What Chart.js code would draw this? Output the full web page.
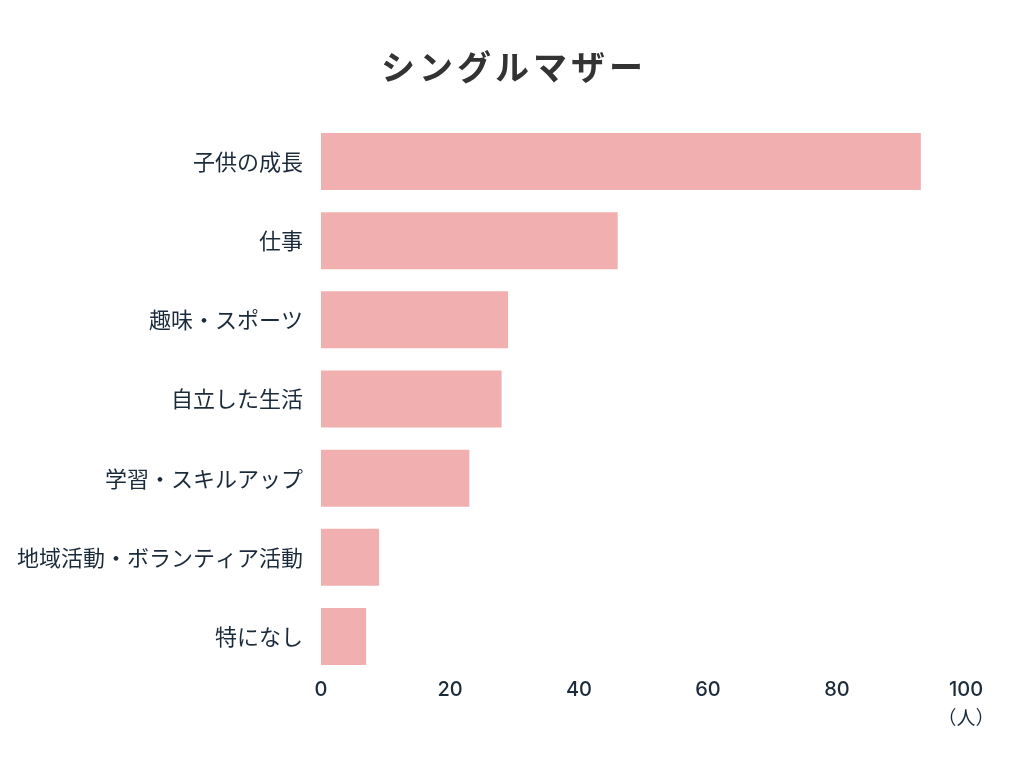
<!DOCTYPE html>
<html lang="ja">
<head>
<meta charset="utf-8">
<title>シングルマザー</title>
<script src="https://cdn.jsdelivr.net/npm/chart.js@4/dist/chart.umd.min.js"></script>
<style>
  html, body { margin: 0; padding: 0; background: #fff; }
  #wrap { width: 1024px; height: 768px; }
</style>
</head>
<body>
<div id="wrap"><canvas id="chart" width="1024" height="768"></canvas></div>
<script>
// Data
const titleText = 'シングルマザー';
const categories = ['子供の成長', '仕事', '趣味・スポーツ', '自立した生活', '学習・スキルアップ', '地域活動・ボランティア活動', '特になし'];
const counts = [93, 46, 29, 28, 23, 9, 7];
const unitLabel = '（人）';

const jpFont = "'Noto Sans CJK JP', 'Noto Sans', sans-serif";
const numFont = "Inter, 'Noto Sans', sans-serif";
const labelColor = '#1c2b3b';

// title centred on the whole canvas, plus the unit under the last x tick
const textPlugin = {
  id: 'extraText',
  afterDraw: chart => {
    const ctx = chart.ctx;
    ctx.save();
    ctx.font = 'bold 34px ' + jpFont;
    ctx.fillStyle = '#333333';
    ctx.textAlign = 'center';
    ctx.textBaseline = 'middle';
    ctx.letterSpacing = '4px';
    ctx.fillText(titleText, chart.width / 2 + 2, 67);
    ctx.letterSpacing = '0px';

    const x = chart.scales.x.getPixelForValue(100);
    ctx.font = '19px ' + jpFont;
    ctx.fillStyle = labelColor;
    ctx.fillText(unitLabel, x, 718);
    ctx.restore();
  }
};

const ctx = document.getElementById('chart').getContext('2d');
const chart = new Chart(ctx, {
  type: 'bar',
  data: {
    labels: categories,
    datasets: [{
      data: counts,
      backgroundColor: '#f1afaf',
      borderWidth: 0,
      categoryPercentage: 0.72,
      barPercentage: 1
    }]
  },
  options: {
    indexAxis: 'y',
    responsive: false,
    animation: false,
    layout: { padding: { top: 122, right: 58, bottom: 0, left: 0 } },
    plugins: {
      legend: { display: false },
      tooltip: { enabled: false },
      title: { display: false }
    },
    scales: {
      x: {
        min: 0,
        max: 100,
        ticks: { stepSize: 20, color: labelColor, font: { family: numFont, size: 20, weight: 500 }, padding: 2, maxRotation: 0 },
        grid: { display: false, drawTicks: false },
        border: { display: false },
        afterFit: scale => { scale.height = 92; }
      },
      y: {
        ticks: { color: labelColor, font: { family: jpFont, size: 22 }, padding: 18 },
        grid: { display: false, drawTicks: false },
        border: { display: false },
        afterFit: scale => { scale.width = 321; }
      }
    }
  },
  plugins: [textPlugin]
});
</script>
</body>
</html>
